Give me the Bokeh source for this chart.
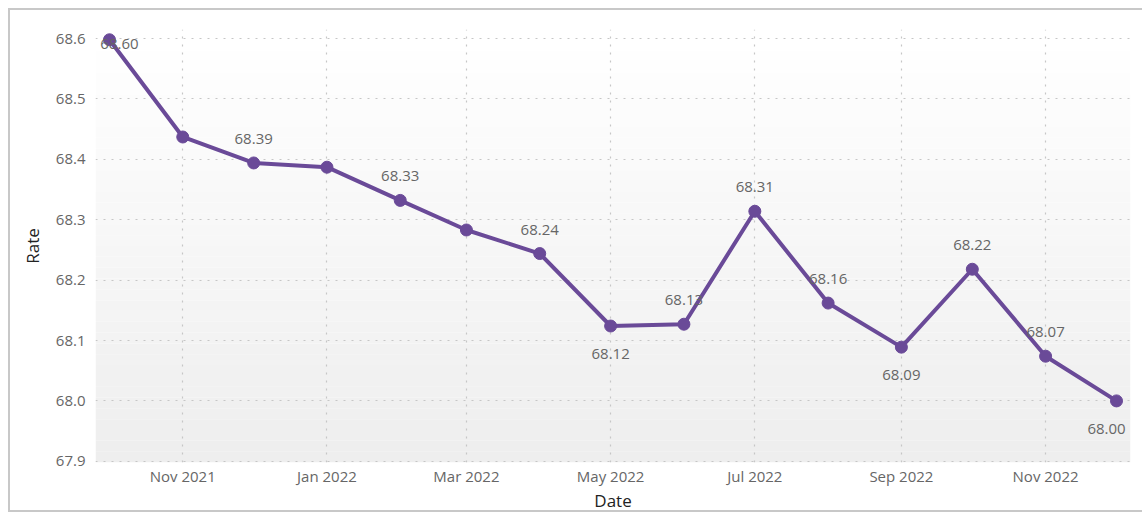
from datetime import datetime
from bokeh.plotting import figure
from bokeh.models import (ColumnDataSource, Range1d, DatetimeTickFormatter, MonthsTicker,
                          FixedTicker, NumeralTickFormatter, BoxAnnotation, LabelSet)
from bokeh.core.properties import value
from bokeh.embed import file_html
from bokeh.resources import INLINE

# ---- data ----
months = ["2021-10", "2021-11", "2021-12", "2022-01", "2022-02", "2022-03", "2022-04",
          "2022-05", "2022-06", "2022-07", "2022-08", "2022-09", "2022-10", "2022-11", "2022-12"]
rates = [68.598, 68.437, 68.394, 68.387, 68.332, 68.283, 68.244,
         68.124, 68.127, 68.314, 68.162, 68.089, 68.218, 68.074, 68.000]
# where each data label is drawn ("" = not shown)
label_place = ["on", "", "above", "", "above", "", "above",
               "below", "above", "above", "above", "below", "above", "above", "below"]
y_ticks = [67.9, 68.0, 68.1, 68.2, 68.3, 68.4, 68.5, 68.6]

dates = [datetime.strptime(m, "%Y-%m") for m in months]

FONT = "Open Sans"
PURPLE = "#6a4a98"
Y_LO, Y_HI = 67.898, 68.615

p = figure(width=1134, height=504, x_axis_type="datetime", output_backend="svg",
           toolbar_location=None,
           x_range=Range1d(datetime(2021, 9, 25, 2), datetime(2022, 12, 6, 22)),
           y_range=Range1d(Y_LO, Y_HI),
           min_border_left=85, min_border_right=14, min_border_top=19, min_border_bottom=44)
p.styles = {"margin-left": "8px", "margin-top": "8px",
            "border-left": "2px solid #c8c8c8", "border-top": "2px solid #c8c8c8",
            "border-bottom": "2px solid #c8c8c8"}
p.outline_line_color = None
p.background_fill_color = "white"
p.border_fill_color = "white"

# gradient background of plot area
n = 40
for i in range(n):
    b = Y_LO + (Y_HI - Y_LO) * i / n
    t = Y_LO + (Y_HI - Y_LO) * (i + 1) / n
    frac = i / (n - 1)
    c = int(round(0xee + (0xff - 0xee) * frac))
    p.add_layout(BoxAnnotation(bottom=b, top=t, fill_color="#%02x%02x%02x" % (c, c, c),
                               fill_alpha=1, line_color=None, level="image"))

# axes
p.xaxis.ticker = MonthsTicker(months=[0, 2, 4, 6, 8, 10])
p.xaxis.formatter = DatetimeTickFormatter(months="%b %Y", days="%b %Y")
p.yaxis.ticker = FixedTicker(ticks=y_ticks)
p.yaxis.formatter = NumeralTickFormatter(format="0.0")
for ax in (p.xaxis[0], p.yaxis[0]):
    ax.axis_line_color = None
    ax.major_tick_line_color = None
    ax.minor_tick_line_color = None
    ax.major_tick_out = 0
    ax.major_tick_in = 0
    ax.major_label_text_font = FONT
    ax.major_label_text_font_size = "15px"
    ax.major_label_text_color = "#666666"
    ax.axis_label_text_font = FONT
    ax.axis_label_text_font_size = "17px"
    ax.axis_label_text_font_style = "normal"
    ax.axis_label_text_color = "#222222"
p.xaxis.axis_label = "Date"
p.yaxis.axis_label = "Rate"
p.xaxis.major_label_standoff = 3
p.yaxis.major_label_standoff = 10
p.xaxis.axis_label_standoff = 0
p.yaxis.axis_label_standoff = 9

# grid
for g in (p.xgrid[0], p.ygrid[0]):
    g.grid_line_color = "#c6c6c6"
    g.grid_line_dash = "2 6"
    g.grid_line_width = 1.2

# data
src = ColumnDataSource(dict(date=dates, rate=rates))
p.line("date", "rate", source=src, line_color=PURPLE, line_width=4)
p.scatter("date", "rate", source=src, size=12, fill_color=PURPLE, line_color=PURPLE)

# data labels
dy = {"above": -24, "below": 28, "on": 4}
lx, ly, lt, ox, oy = [], [], [], [], []
for i, (d, r, pl) in enumerate(zip(dates, rates, label_place)):
    if not pl:
        continue
    lx.append(d)
    ly.append(r)
    lt.append(f"{r:.2f}")
    ox.append(10 if i == 0 else (-10 if i == len(dates) - 1 else 0))
    oy.append(-dy[pl])
lsrc = ColumnDataSource(dict(x=lx, y=ly, t=lt, ox=ox, oy=oy))
p.add_layout(LabelSet(x="x", y="y", text="t", x_offset="ox", y_offset="oy", source=lsrc,
                      text_font=value(FONT), text_font_size="15px", text_color="#666666",
                      text_align="center", text_baseline="middle"))

open("out.html", "w").write(file_html(p, INLINE))
